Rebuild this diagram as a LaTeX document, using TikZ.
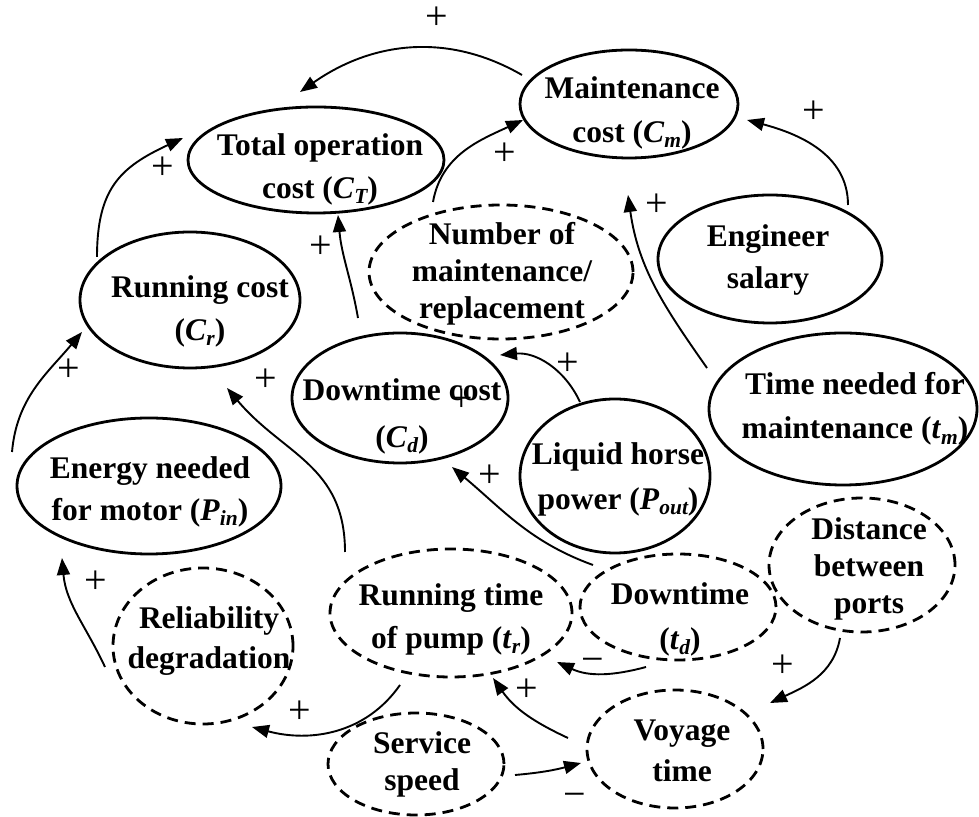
\documentclass[tikz,border=0pt]{standalone}
\usepackage{fontspec}
\setmainfont{Liberation Serif}
\usetikzlibrary{shapes.geometric,arrows.meta,calc}
% italic subscript for the model variables
\newcommand\vsub[1]{\raisebox{-0.17em}{\fontsize{21.5}{21.5}\selectfont\itshape #1}}
\begin{document}
\begin{tikzpicture}[x=1pt,y=1pt,
  solidell/.style={ellipse, draw, line width=2.8pt, inner sep=0pt, outer sep=0pt},
  dashell/.style={solidell, dash pattern=on 11pt off 7pt},
  txt/.style={align=center, inner sep=0pt, font=\bfseries\fontsize{31.5}{#1}\selectfont},
  txt/.default=40,
  sign/.style={inner sep=0pt, font=\fontsize{40}{40}\selectfont},
  conn/.style={line width=1.9pt, -{Triangle[length=17pt,width=13pt]}}]

\useasboundingbox (0,0) rectangle (979,816);

% ---- variables ----
\node[solidell, minimum width=256, minimum height=106] (tot) at (316,656) {};
\node[solidell, minimum width=218, minimum height=108] (mc)  at (629,712) {};
\node[solidell, minimum width=220, minimum height=136] (rc)  at (190,516) {};
\node[dashell,  minimum width=264, minimum height=134] (nm)  at (501,544) {};
\node[solidell, minimum width=224, minimum height=128] (es)  at (770,557) {};
\node[solidell, minimum width=216, minimum height=130] (dc)  at (400,418) {};
\node[solidell, minimum width=190, minimum height=154] (lhp) at (615,340) {};
\node[solidell, minimum width=268, minimum height=152] (tm)  at (843,407) {};
\node[solidell, minimum width=264, minimum height=136] (en)  at (149,330) {};
\node[dashell,  minimum width=180, minimum height=156] (rd)  at (203,170) {};
\node[dashell,  minimum width=242, minimum height=128] (rt)  at (451,203) {};
\node[dashell,  minimum width=196, minimum height=106] (dt)  at (678,209) {};
\node[dashell,  minimum width=186, minimum height=134] (dp)  at (862,251) {};
\node[dashell,  minimum width=176, minimum height=118] (vt)  at (675,67)  {};
\node[dashell,  minimum width=176, minimum height=102] (ss)  at (416,52)  {};

% ---- captions ----
\node[txt=43] (tot-t) at ($(tot)+(4,-9)$) {Total operation\\cost (\textit{C}\vsub{T})};
\node[txt=44] (mc-t)  at ($(mc)+(3,-9)$)  {Maintenance\\cost (\textit{C}\vsub{m})};
\node[txt=43] (rc-t)  at ($(rc)+(10,-11)$) {Running cost\\(\textit{C}\vsub{r})};
\node[txt=37] (nm-t)  at ($(nm)+(1,-2)$)  {Number of\\maintenance/\\replacement};
\node[txt=42] (es-t)  at ($(es)+(-2,-1)$) {Engineer\\salary};
\node[txt=47] (dc-t)  at ($(dc)+(2,-18)$) {Downtime cost\\(\textit{C}\vsub{d})};
\node[txt=45] (lhp-t) at ($(lhp)+(3,-3)$) {Liquid horse\\power (\textit{P}\vsub{out})};
\node[txt=44] (tm-t)  at ($(tm)+(12,0)$)  {Time needed for\\maintenance (\textit{t}\vsub{m})};
\node[txt=42] (en-t)  at ($(en)+(1,-6)$)  {Energy needed\\for motor (\textit{P}\vsub{in})};
\node[txt=40] (rd-t)  at ($(rd)+(6,5)$)   {Reliability\\degradation};
\node[txt=43] (rt-t)  at ($(rt)+(0,-6)$)  {Running time\\of pump (\textit{t}\vsub{r})};
\node[txt=45] (dt-t)  at ($(dt)+(2,-12)$) {Downtime\\(\textit{t}\vsub{d})};
\node[txt=37] (dp-t)  at ($(dp)+(7,-4)$)  {Distance\\between\\ports};
\node[txt=41] (vt-t)  at ($(vt)+(7,-2)$)  {Voyage\\time};
\node[txt=37] (ss-t)  at ($(ss)+(6,0)$)   {Service\\speed};

% ---- causal links ----
\draw[conn] ($(mc)+(-107,29)$) to[out=150,in=35] ($(tot)+(-16,68)$);
\draw[conn] ($(rc)+(-93,43)$) to[out=90,in=205,looseness=1.2] ($(tot)+(-133,22)$);
\draw[conn] ($(dc)+(-42,80)$) to[out=100,in=-85] ($(tot)+(22,-55)$);
\draw[conn] ($(nm)+(-68,70)$) to[out=80,in=205] ($(mc)+(-106,-16)$);
\draw[conn] ($(es)+(78,54)$) to[out=90,in=-15] ($(mc)+(118,-16)$);
\draw[conn] ($(tm)+(-136,41)$) to[out=125,in=-82] ($(mc)+(-1,-91)$);
\draw[conn] ($(lhp)+(-35,74)$) to[out=115,in=5] ($(nm)+(-1,-83)$);
\draw[conn] ($(rt)+(-106,61)$) to[out=90,in=-50,looseness=1.1] ($(rc)+(37,-88)$);
\draw[conn] ($(en)+(-137,34)$) to[out=85,in=230] ($(rc)+(-108,-32)$);
\draw[conn] ($(dt)+(-85,42)$) to[out=160,in=-40] ($(dc)+(52,-69)$);
\draw[conn] ($(rd)+(-98,-21)$) to[out=115,in=-85] ($(en)+(-87,-72)$);
\draw[conn] ($(rt)+(-51,-72)$) to[out=235,in=-15] ($(rd)+(49,-81)$);
\draw[conn] ($(dt)+(-32,-60)$) to[out=195,in=-25] ($(rt)+(106,-49)$);
\draw[conn] ($(vt)+(-107,11)$) to[out=155,in=-55] ($(rt)+(42,-65)$);
\draw[conn] ($(dp)+(-22,-73)$) to[out=-100,in=25] ($(vt)+(95,46)$);
\draw[conn] ($(ss)+(99,-11)$) to[out=5,in=195] ($(vt)+(-94,-14)$);

% ---- polarities ----
\node[sign] (s1)  at (437,798) {+};
\node[sign] (s2)  at (163,648) {+};
\node[sign] (s3)  at (321,569) {+};
\node[sign] (s4)  at (505,662) {+};
\node[sign] (s5)  at (814,704) {+};
\node[sign] (s6)  at (657,611) {+};
\node[sign] (s7)  at (568,452) {+};
\node[sign] (s8)  at (266,436) {+};
\node[sign] (s9)  at (69,446)  {+};
\node[sign] (s10) at (490,340) {+};
\node[sign] (s11) at (96,234)  {+};
\node[sign] (s12) at (300,104) {+};
\node[sign] (s13) at (593,151) {−};
\node[sign] (s14) at (527,126) {+};
\node[sign] (s15) at (783,150) {+};
\node[sign] (s16) at (575,16)  {−};
\node[sign] (s17) at (462,416) {+};
\end{tikzpicture}
\end{document}
